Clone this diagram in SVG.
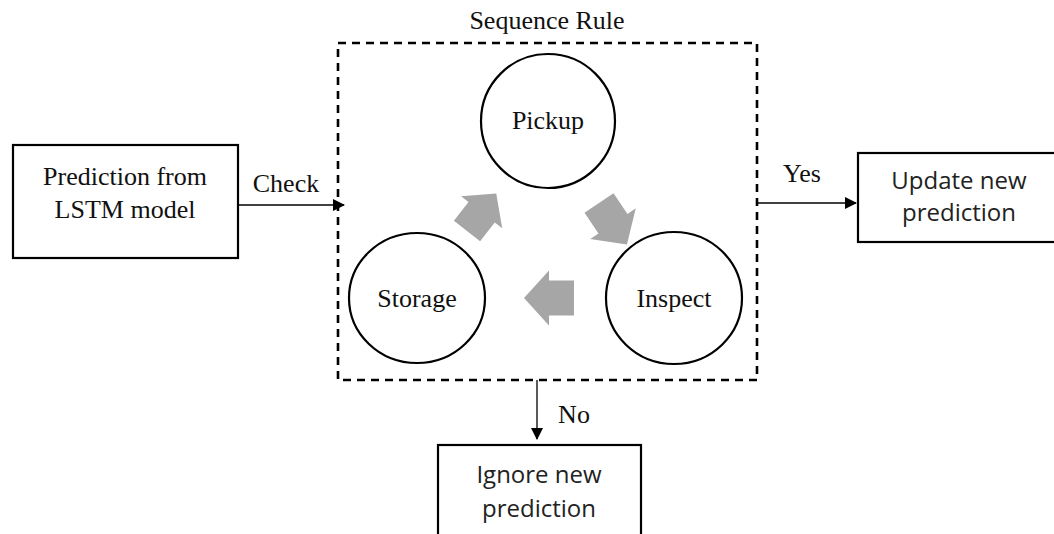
<svg xmlns="http://www.w3.org/2000/svg" width="1054" height="534" viewBox="0 0 1054 534">
  <style>
    .box { fill: #ffffff; stroke: #000000; stroke-width: 2.2; }
    .state { fill: #ffffff; stroke: #000000; stroke-width: 2.2; }
    .frame { fill: none; stroke: #000000; stroke-width: 2.6; stroke-dasharray: 8 6; }
    .link { fill: none; stroke: #000000; stroke-width: 1.3; }
    .serif { font-family: "Liberation Serif", "Times New Roman", serif; font-size: 26px; fill: #111111; text-anchor: middle; }
    .sans { font-family: "Open Sans", "Liberation Sans", sans-serif; font-size: 24px; fill: #222222; text-anchor: middle; }
    .flow { fill: #a6a6a6; }
  </style>
  <defs>
    <marker id="arrow" viewBox="0 0 12 12" refX="11" refY="6" markerWidth="12" markerHeight="12" markerUnits="userSpaceOnUse" orient="auto">
      <path d="M0,0 L12,6 L0,12 Z" fill="#000000"/>
    </marker>
    <!-- block arrow pointing along +x, origin at the middle of the tail -->
    <polygon id="blockArrow" points="0,-17.5 25,-17.5 25,-27.5 50,0 25,27.5 25,17.5 0,17.5"/>
  </defs>

  <rect width="1054" height="534" fill="#ffffff"/>

  <!-- sequence rule frame -->
  <g id="sequence-rule">
    <rect class="frame" x="338" y="43" width="419" height="337"/>
    <text class="serif" x="547" y="29">Sequence Rule</text>
  </g>

  <!-- cycle arrows between the states -->
  <g id="cycle" class="flow">
    <use href="#blockArrow" transform="translate(467,231) rotate(-52) scale(0.95)"/>
    <use href="#blockArrow" transform="translate(599,203) rotate(56)"/>
    <use href="#blockArrow" transform="translate(574,298) rotate(180)"/>
  </g>

  <g id="pickup">
    <circle class="state" cx="548" cy="121" r="67"/>
    <text class="serif" x="548" y="129">Pickup</text>
  </g>
  <g id="storage">
    <ellipse class="state" cx="417" cy="298" rx="68" ry="65"/>
    <text class="serif" x="417" y="307">Storage</text>
  </g>
  <g id="inspect">
    <ellipse class="state" cx="674" cy="298" rx="68" ry="66"/>
    <text class="serif" x="674" y="307">Inspect</text>
  </g>

  <g id="prediction">
    <rect class="box" x="13" y="145" width="225" height="113"/>
    <text class="serif" x="125" y="185">Prediction from</text>
    <text class="serif" x="125" y="218">LSTM model</text>
  </g>

  <g id="update">
    <rect class="box" x="858" y="153" width="206" height="89"/>
    <text class="sans" x="959" y="189">Update new</text>
    <text class="sans" x="959" y="221">prediction</text>
  </g>

  <g id="ignore">
    <rect class="box" x="438" y="445" width="203" height="100"/>
    <text class="sans" x="539" y="483">Ignore new</text>
    <text class="sans" x="539" y="517">prediction</text>
  </g>

  <!-- connectors -->
  <g id="connectors">
    <line class="link" x1="238" y1="205" x2="344" y2="205" marker-end="url(#arrow)"/>
    <text class="serif" x="286" y="192">Check</text>
    <line class="link" x1="757" y1="203" x2="856" y2="203" marker-end="url(#arrow)"/>
    <text class="serif" x="802" y="182">Yes</text>
    <line class="link" x1="537" y1="380" x2="537" y2="439" marker-end="url(#arrow)"/>
    <text class="serif" x="574" y="423">No</text>
  </g>
</svg>
